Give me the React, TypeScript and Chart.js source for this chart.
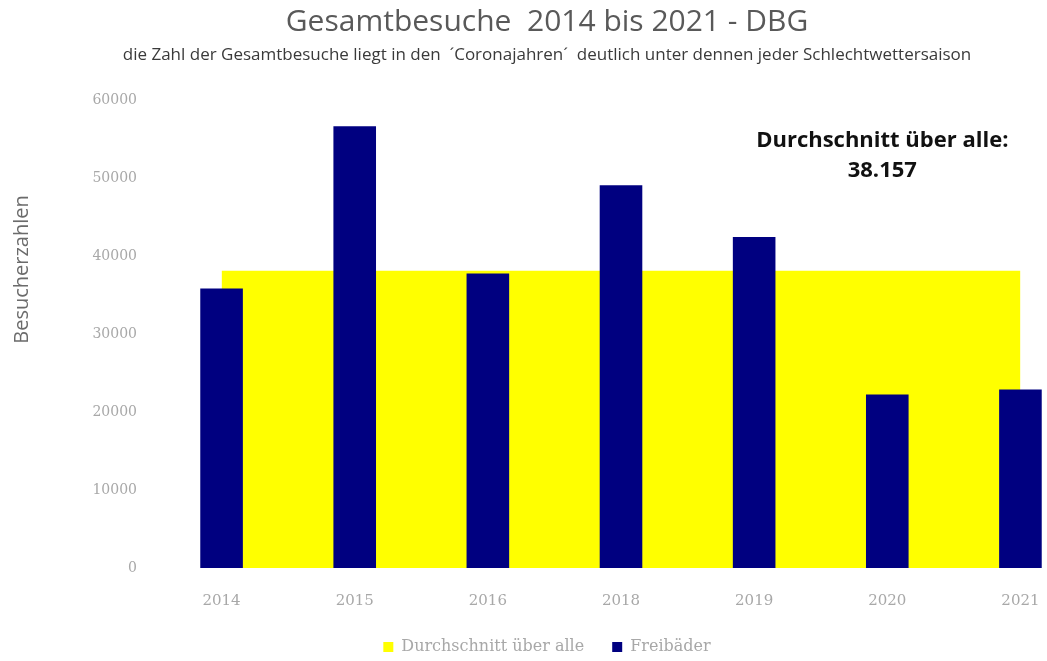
import React, { useEffect, useRef } from "react";
import { Chart, registerables } from "chart.js";

Chart.register(...registerables);

const CATEGORIES = ["2014", "2015", "2016", "2018", "2019", "2020", "2021"];
const VISITORS = [35860, 56670, 37780, 49120, 42470, 22260, 22900];
const AVERAGE = 38157;
const AVERAGE_SERIES = CATEGORIES.map(() => AVERAGE);
const Y_MIN = 0;
const Y_MAX = 60000;
const Y_STEP = 10000;

const TITLE = "Gesamtbesuche  2014 bis 2021 - DBG";
const SUBTITLE =
  "die Zahl der Gesamtbesuche liegt in den  ´Coronajahren´  deutlich unter dennen jeder Schlechtwettersaison";
const Y_TITLE = "Besucherzahlen";
const LEGEND_AVG = "Durchschnitt über alle";
const LEGEND_BARS = "Freibäder";
const NOTE_LINE1 = "Durchschnitt über alle:";
const NOTE_INDEX = 5;
const NOTE_VALUE = 54800;
const Y_TITLE_VALUE = 38300;

const W = 1094;
const H = 661;

const noteAndAxisTitle = {
  id: "noteAndAxisTitle",
  afterDatasetsDraw(chart: any) {
    const { ctx, scales } = chart;
    const x = scales.x.getPixelForValue(NOTE_INDEX) - 5;
    const y = scales.y.getPixelForValue(NOTE_VALUE);
    ctx.save();
    ctx.fillStyle = "#111111";
    ctx.font = "bold 22px 'Open Sans'";
    ctx.textAlign = "center";
    ctx.textBaseline = "middle";
    ctx.fillText(NOTE_LINE1, x, y);
    ctx.fillText(AVERAGE.toLocaleString("de-DE"), x, y + 30);
    ctx.restore();

    const ty = scales.y.getPixelForValue(Y_TITLE_VALUE);
    ctx.save();
    ctx.translate(22, ty);
    ctx.rotate(-Math.PI / 2);
    ctx.fillStyle = "#6b6b6b";
    ctx.font = "20px 'Open Sans'";
    ctx.textAlign = "center";
    ctx.textBaseline = "middle";
    ctx.fillText(Y_TITLE, 0, 0);
    ctx.restore();
  },
};

export default function App() {
  const ref = useRef<HTMLCanvasElement | null>(null);
  useEffect(() => {
    if (!ref.current) return;
    const chart = new Chart(ref.current, {
      type: "bar",
      data: {
        labels: CATEGORIES,
        datasets: [
          {
            type: "line",
            label: LEGEND_AVG,
            data: AVERAGE_SERIES,
            backgroundColor: "#ffff00",
            borderColor: "#ffff00",
            borderWidth: 0,
            pointRadius: 0,
            fill: "origin",
            tension: 0,
            order: 2,
          } as any,
          {
            type: "bar",
            label: LEGEND_BARS,
            data: VISITORS,
            backgroundColor: "#000080",
            borderWidth: 0,
            barPercentage: 0.32,
            categoryPercentage: 1,
            order: 1,
          },
        ],
      },
      options: {
        responsive: false,
        animation: false,
        layout: { padding: { left: 7, right: 7, top: 0, bottom: -4 } },
        plugins: {
          title: {
            display: true,
            text: TITLE,
            color: "#595959",
            font: { family: "'Open Sans'", size: 30, weight: "normal" },
            padding: { top: 4, bottom: 0 },
          },
          subtitle: {
            display: true,
            text: SUBTITLE,
            color: "#3a3a3a",
            font: { family: "'Open Sans'", size: 17 },
            padding: { top: 5, bottom: 35 },
          },
          legend: {
            position: "bottom",
            labels: {
              boxWidth: 10,
              boxHeight: 10,
              padding: 28,
              color: "#a8a8a8",
              font: { family: "'DejaVu Serif'", size: 16 },
              sort: (a: any, b: any) => a.datasetIndex - b.datasetIndex,
            },
          },
          tooltip: { enabled: false },
        },
        scales: {
          x: {
            offset: true,
            grid: { display: false, drawTicks: false },
            border: { display: false },
            ticks: {
              color: "#a8a8a8",
              padding: 24,
              font: { family: "'DejaVu Serif'", size: 15 },
            },
            afterFit(scale: any) {
              scale.height = 43;
            },
          },
          y: {
            min: Y_MIN,
            max: Y_MAX,
            grid: { display: false, drawTicks: false },
            border: { display: false },
            ticks: {
              stepSize: Y_STEP,
              color: "#a8a8a8",
              padding: 18,
              font: { family: "'DejaVu Serif'", size: 14 },
              callback: (v: any) => String(v),
            },
            afterFit(scale: any) {
              scale.width = 148;
            },
          },
        },
      },
      plugins: [noteAndAxisTitle],
    });
    return () => chart.destroy();
  }, []);
  return (
    <div
      style={{
        position: "fixed",
        left: 0,
        top: 0,
        width: 1047,
        height: 661,
        overflow: "hidden",
        background: "#ffffff",
      }}
    >
      <canvas ref={ref} width={W} height={H} style={{ display: "block", width: W, height: H }} />
    </div>
  );
}
